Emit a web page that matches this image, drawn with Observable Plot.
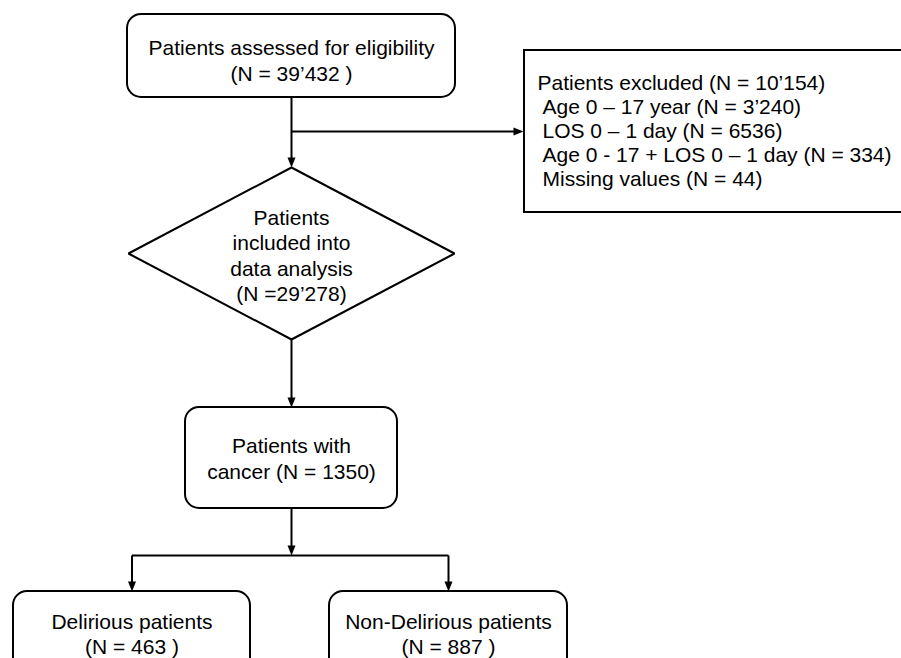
<!DOCTYPE html>
<html>
<head>
<meta charset="utf-8">
<script src="https://cdn.jsdelivr.net/npm/d3@7"></script>
<script src="https://cdn.jsdelivr.net/npm/@observablehq/plot@0.6"></script>
<style>
  html, body { margin: 0; padding: 0; background: #fff; overflow: hidden; }
  #chart svg { display: block; }
</style>
</head>
<body>
<div id="chart"></div>
<script>
// ---- Flow chart content (values) ----
const nodeIds = ["assessed", "included", "cancer", "delirious", "nondelirious"];
const nodeTitles = [
  "Patients assessed for eligibility",
  "Patients\nincluded into\ndata analysis",
  "Patients with\ncancer",
  "Delirious patients",
  "Non-Delirious patients"
];
const nodeCounts = ["(N = 39’432 )", "(N =29’278)", "(N = 1350)", "(N = 463 )", "(N = 887 )"];

const exclusionHeader = "Patients excluded (N = 10’154)";
const exclusionReasons = [
  "Age 0 – 17 year (N = 3’240)",
  "LOS 0 – 1 day (N = 6536)",
  "Age 0 - 17 + LOS 0 – 1 day (N = 334)",
  "Missing values (N = 44)"
];

// ---- Layout (diagram geometry, pixel space of the 901x658 canvas) ----
const W = 901, H = 658;
const layout = {
  assessed:     {x1: 127, x2: 455, y1: 14,  y2: 97,  shape: "round"},
  included:     {x1: 128, x2: 454, y1: 167, y2: 339, shape: "diamond"},
  cancer:       {x1: 185, x2: 397, y1: 407, y2: 508, shape: "round"},
  delirious:    {x1: 13,  x2: 250, y1: 591, y2: 690, shape: "round"},
  nondelirious: {x1: 329, x2: 567, y1: 591, y2: 690, shape: "round"}
};
const exclusionBox = {x1: 524, x2: 905, y1: 50, y2: 212};

const nodes = nodeIds.map((id, i) => {
  const L = layout[id];
  const label = id === "cancer" ? "Patients with\ncancer " + nodeCounts[i] : nodeTitles[i] + "\n" + nodeCounts[i];
  return {id, label, ...L, cx: (L.x1 + L.x2) / 2, cy: (L.y1 + L.y2) / 2};
});
const byId = Object.fromEntries(nodes.map(d => [d.id, d]));
// bottom boxes are clipped by the canvas: text centred on the visible part
byId.delirious.cy = 633; byId.nondelirious.cy = 633;
byId.assessed.cy = 59.5; byId.included.cy = 254.5;

const roundNodes = nodes.filter(d => d.shape === "round");
const dia = byId.included;
const diamondPts = [
  {x: dia.cx, y: dia.y1}, {x: dia.x2, y: (dia.y1 + dia.y2) / 2}, {x: dia.cx, y: dia.y2},
  {x: dia.x1, y: (dia.y1 + dia.y2) / 2}, {x: dia.cx, y: dia.y1}
];

const junctionY1 = 131;   // branch to exclusion box
const junctionY2 = 555;   // split to two groups
const A = byId.assessed, C = byId.cancer, D = byId.delirious, N = byId.nondelirious;

const plainLinks = [
  {x1: D.cx, y1: junctionY2, x2: N.cx, y2: junctionY2}
];
const downArrows = [
  {x1: A.cx, y1: A.y2, x2: dia.cx, y2: dia.y1},
  {x1: dia.cx, y1: dia.y2, x2: C.cx, y2: C.y1},
  {x1: C.cx, y1: C.y2, x2: C.cx, y2: junctionY2},
  {x1: D.cx, y1: junctionY2, x2: D.cx, y2: D.y1},
  {x1: N.cx, y1: junctionY2, x2: N.cx, y2: N.y1}
];
const rightArrows = [
  {x1: A.cx, y1: junctionY1, x2: exclusionBox.x1 - 1, y2: junctionY1}
];

const headDown = {draw(ctx) { ctx.moveTo(-4, -10); ctx.lineTo(4, -10); ctx.lineTo(0, 0); ctx.closePath(); }};
const headRight = {draw(ctx) { ctx.moveTo(-10, -4); ctx.lineTo(-10, 4); ctx.lineTo(0, 0); ctx.closePath(); }};

const font = "'Liberation Sans', Arial, Helvetica, sans-serif";
const fs = 21;
const exLines = [exclusionHeader, ...exclusionReasons].map((t, i) => ({
  text: t, x: exclusionBox.x1 + (i === 0 ? 13 : 18), y: 83 + i * 24
}));

const chart = Plot.plot({
  width: W, height: H,
  margin: 0,
  x: {domain: [0, W], range: [0, W], axis: null},
  y: {domain: [0, H], range: [0, H], axis: null},
  style: {fontFamily: font, background: "#fff"},
  marks: [
    Plot.rect(roundNodes, {x1: "x1", x2: "x2", y1: "y1", y2: "y2", rx: 14, fill: "#fff", stroke: "#000", strokeWidth: 2}),
    Plot.rect([exclusionBox], {x1: "x1", x2: "x2", y1: "y1", y2: "y2", fill: "#fff", stroke: "#000", strokeWidth: 2}),
    Plot.line(diamondPts, {x: "x", y: "y", stroke: "#000", strokeWidth: 2, strokeLinejoin: "miter"}),
    Plot.link(plainLinks, {x1: "x1", y1: "y1", x2: "x2", y2: "y2", stroke: "#000", strokeWidth: 2}),
    Plot.link(downArrows, {x1: "x1", y1: "y1", x2: "x2", y2: d => d.y2 - 6, stroke: "#000", strokeWidth: 2}),
    Plot.link(rightArrows, {x1: "x1", y1: "y1", x2: d => d.x2 - 6, y2: "y2", stroke: "#000", strokeWidth: 2}),
    Plot.dot(downArrows, {x: "x2", y: "y2", symbol: headDown, r: 5, fill: "#000", stroke: "none"}),
    Plot.dot(rightArrows, {x: "x2", y: "y2", symbol: headRight, r: 5, fill: "#000", stroke: "none"}),
    Plot.text(nodes, {x: "cx", y: "cy", text: "label", fontSize: fs, lineHeight: 1.2, fill: "#000"}),
    Plot.text(exLines, {x: "x", y: "y", text: "text", textAnchor: "start", fontSize: fs, fill: "#000"})
  ]
});
document.getElementById("chart").appendChild(chart);
</script>
</body>
</html>
